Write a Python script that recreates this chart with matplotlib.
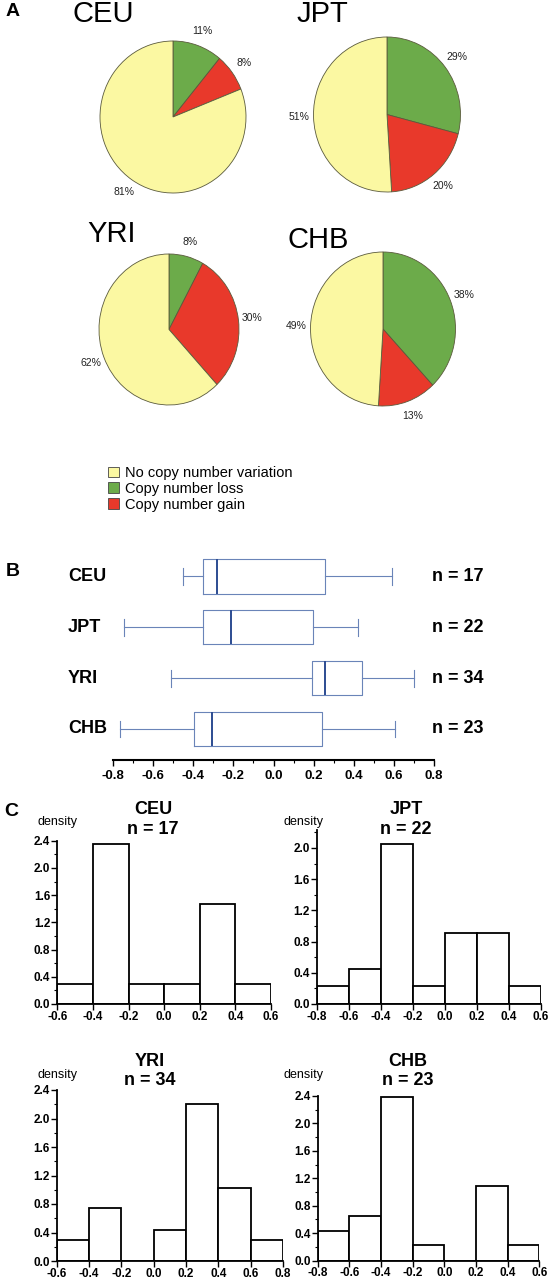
import numpy as np
import matplotlib
matplotlib.use("Agg")
import matplotlib.pyplot as plt
from matplotlib.patches import Patch
from matplotlib.ticker import FormatStrFormatter, MultipleLocator

plt.rcParams['font.family'] = ['Liberation Sans', 'DejaVu Sans']

# --- A: pie data (loss, gain, no variation), percent
pie_pops = ['CEU', 'JPT', 'YRI', 'CHB']
pie_loss = [11, 29, 8, 38]
pie_gain = [8, 20, 30, 13]
pie_none = [81, 51, 62, 49]
legend_labels = ['No copy number variation', 'Copy number loss', 'Copy number gain']

# --- B: box plot stats
box_pops = ['CEU', 'JPT', 'YRI', 'CHB']
box_n = [17, 22, 34, 23]
box_whislo = [-0.45, -0.745, -0.51, -0.765]
box_q1 = [-0.35, -0.35, 0.19, -0.395]
box_med = [-0.28, -0.21, 0.255, -0.305]
box_q3 = [0.255, 0.197, 0.44, 0.24]
box_whishi = [0.59, 0.42, 0.70, 0.605]

# --- C: histogram densities (bin width 0.2)
hist_pops = ['CEU', 'JPT', 'YRI', 'CHB']
hist_n = [17, 22, 34, 23]
ceu_bins = [-0.6, -0.4, -0.2, 0.0, 0.2, 0.4]
ceu_dens = [0.29, 2.35, 0.29, 0.29, 1.47, 0.29]
jpt_bins = [-0.8, -0.6, -0.4, -0.2, 0.0, 0.2, 0.4]
jpt_dens = [0.23, 0.45, 2.05, 0.23, 0.91, 0.91, 0.23]
yri_bins = [-0.6, -0.4, -0.2, 0.0, 0.2, 0.4, 0.6]
yri_dens = [0.29, 0.74, 0.0, 0.44, 2.2, 1.03, 0.29]
chb_bins = [-0.8, -0.6, -0.4, -0.2, 0.0, 0.2, 0.4]
chb_dens = [0.43, 0.65, 2.39, 0.22, 0.0, 1.09, 0.22]

W, H = 551, 1280
fig = plt.figure(figsize=(W / 100, H / 100), dpi=100)


def px_axes(x0, y0, w, h):
    return fig.add_axes([x0 / W, 1 - (y0 + h) / H, w / W, h / H])


def ticks(lo, hi, step):
    # round and drop the negative zero
    return np.round(np.arange(lo, hi + 0.01, step), 1) + 0.0


col_none = '#fbf8a2'
col_loss = '#6cab4a'
col_gain = '#e8392b'

# panel A
pie_geom = [(173, 117, 73, 76), (387, 114.5, 73.5, 77.5),
            (169, 329.5, 70, 75.5), (383, 329, 72.5, 77)]
for i, pop in enumerate(pie_pops):
    cx, cy, rx, ry = pie_geom[i]
    ax = px_axes(cx - 1.25 * rx, cy - 1.25 * ry, 2.5 * rx, 2.5 * ry)
    ax.pie([pie_loss[i], pie_gain[i], pie_none[i]],
           colors=[col_loss, col_gain, col_none], startangle=90,
           counterclock=False, autopct='%.0f%%', pctdistance=1.2,
           wedgeprops=dict(edgecolor='#5a5a3c', linewidth=0.6),
           textprops=dict(fontsize=7.5, color='#222222'))
    ax.set_aspect('auto')
    ax.set_xlim(-1.25, 1.25)
    ax.set_ylim(-1.25, 1.25)

title_pos = [(73, 14), (297, 14), (87, 234), (287, 240)]
for pop, (x, y) in zip(pie_pops, title_pos):
    fig.text(x / W, 1 - y / H, pop, fontsize=21, va='center', ha='left')

fig.text(6 / W, 1 - 12 / H, 'A', fontsize=14, fontweight='bold', va='center')
fig.text(6 / W, 1 - 571 / H, 'B', fontsize=14, fontweight='bold', va='center')
fig.text(4 / W, 1 - 811 / H, 'C', fontsize=14, fontweight='bold', va='center')

handles = [Patch(facecolor=c, edgecolor='#444444', linewidth=0.6)
           for c in (col_none, col_loss, col_gain)]
fig.legend(handles, legend_labels, loc='upper left',
           bbox_to_anchor=(108 / W, 1 - 466 / H), frameon=False,
           fontsize=10.5, handlelength=0.75, handleheight=0.75,
           handletextpad=0.4, labelspacing=0.12, borderpad=0, borderaxespad=0)

# panel B
bx = px_axes(113, 546, 321, 214)
stats = []
for i, pop in enumerate(box_pops):
    stats.append(dict(whislo=box_whislo[i], q1=box_q1[i], med=box_med[i],
                      q3=box_q3[i], whishi=box_whishi[i], fliers=[], label=pop))
positions = np.arange(len(box_pops), 0, -1)
box_col = '#6a84b8'
bx.bxp(stats, positions=positions, orientation='horizontal', widths=0.67,
       capwidths=0.33, showfliers=False,
       boxprops=dict(color=box_col, linewidth=0.8),
       whiskerprops=dict(color=box_col, linewidth=0.8),
       capprops=dict(color=box_col, linewidth=0.8),
       medianprops=dict(color='#2c4c92', linewidth=1.4))
bx.set_xlim(-0.8, 0.8)
bx.set_ylim(0.39, 4.6)
for s in ('left', 'right', 'top'):
    bx.spines[s].set_visible(False)
bx.spines['bottom'].set_linewidth(1.5)
bx.set_yticks([])
bx.set_xticks(ticks(-0.8, 0.8, 0.2))
bx.xaxis.set_major_formatter(FormatStrFormatter('%.1f'))
bx.xaxis.set_minor_locator(MultipleLocator(0.1))
bx.tick_params(axis='x', which='major', length=4, width=1, labelsize=9.5, pad=3)
bx.tick_params(axis='x', which='minor', length=2, width=0.8)
for lab in bx.get_xticklabels():
    lab.set_fontweight('bold')
for i, pop in enumerate(box_pops):
    yc = bx.transData.transform((0, positions[i]))[1] / fig.dpi / fig.get_figheight()
    fig.text(68 / W, yc, pop, fontsize=13, fontweight='bold', va='center')
    fig.text(432 / W, yc, 'n = %d' % box_n[i], fontsize=13, fontweight='bold', va='center')

# panel C
hist_bins = [ceu_bins, jpt_bins, yri_bins, chb_bins]
hist_dens = [ceu_dens, jpt_dens, yri_dens, chb_dens]
hist_xlim = [(-0.6, 0.6), (-0.8, 0.6), (-0.6, 0.8), (-0.8, 0.6)]
hist_ylim = [2.4, 2.23, 2.4, 2.4]
hist_geom = [(57.3, 840.7, 213.7, 163.3), (316.7, 830, 224.3, 174),
             (56.7, 1090, 226.3, 171), (317.7, 1096, 221.6, 164.5)]
hist_title = [(153, 810, 38, 822), (406, 810, 283, 822),
              (150, 1061, 38, 1075), (408, 1061, 283, 1075)]
for i, pop in enumerate(hist_pops):
    x0, y0, w, h = hist_geom[i]
    ax = px_axes(x0, y0, w, h)
    ax.bar(hist_bins[i], hist_dens[i], width=0.2, align='edge',
           facecolor='white', edgecolor='black', linewidth=1.3)
    ax.set_xlim(*hist_xlim[i])
    ax.set_ylim(0, hist_ylim[i])
    for s in ('right', 'top'):
        ax.spines[s].set_visible(False)
    for s in ('left', 'bottom'):
        ax.spines[s].set_linewidth(1.3)
    lo, hi = hist_xlim[i]
    ax.set_xticks(ticks(lo, hi, 0.2))
    ax.set_yticks(ticks(0, hist_ylim[i], 0.4))
    ax.yaxis.set_minor_locator(MultipleLocator(0.2))
    ax.xaxis.set_major_formatter(FormatStrFormatter('%.1f'))
    ax.yaxis.set_major_formatter(FormatStrFormatter('%.1f'))
    ax.tick_params(which='major', length=4, width=1, labelsize=8.5, pad=1)
    ax.tick_params(which='minor', length=2.5, width=0.8)
    for lab in ax.get_xticklabels() + ax.get_yticklabels():
        lab.set_fontweight('bold')
    tx, ty, dx, dy = hist_title[i]
    fig.text(tx / W, 1 - ty / H, pop, fontsize=13, fontweight='bold',
             ha='center', va='center')
    fig.text(tx / W, 1 - (ty + 19.5) / H, 'n = %d' % hist_n[i], fontsize=13,
             fontweight='bold', ha='center', va='center')
    fig.text(dx / W, 1 - dy / H, 'density', fontsize=9, ha='left', va='center')

fig.savefig('out.png', dpi=100)
